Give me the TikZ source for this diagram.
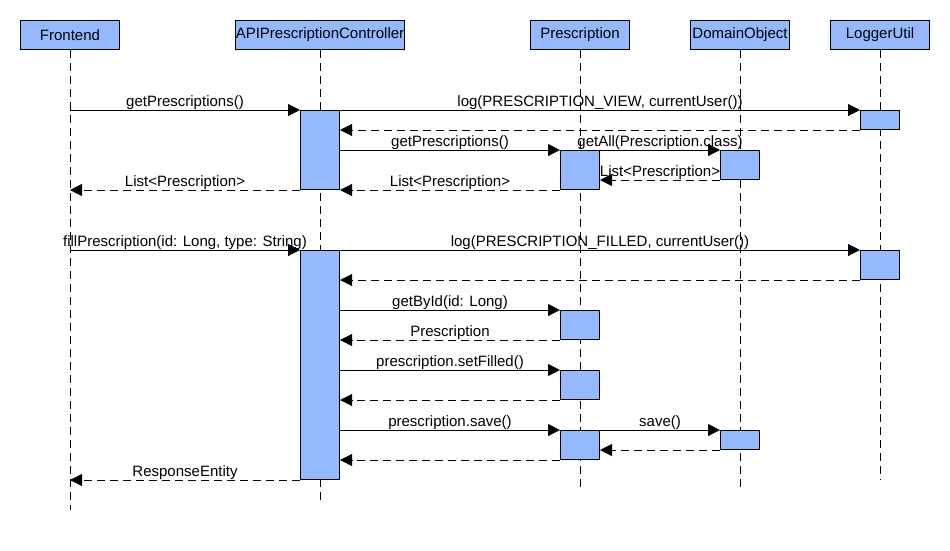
\documentclass[tikz,border=0pt]{standalone}
\usepackage{fontspec}
\setmainfont{Liberation Sans}
\usetikzlibrary{arrows.meta}
\usetikzlibrary{math}
\definecolor{actblue}{RGB}{148, 185, 255}

\begin{document}
\begin{tikzpicture}[x=1pt,y=-1pt,
  font=\fontsize{15}{18}\selectfont,
  head/.style={draw,fill=actblue,line width=1pt,minimum width=99pt,minimum height=29pt,inner sep=0pt},
  act/.style={draw,fill=actblue,line width=1pt,minimum width=39pt,inner sep=0pt,anchor=north},
  life/.style={line width=1pt,dash pattern=on 8pt off 5pt},
  call/.style={line width=1pt,-{Triangle[length=12pt,width=12pt]}},
  reply/.style={call,dash pattern=on 8pt off 5pt},
  msg/.style={midway,anchor=base,yshift=4pt,inner sep=0pt}]
\useasboundingbox (0,0) rectangle (950,550);
\tikzmath{
\hy=35;
}
% participants
\node[head] (fe) at (70,\hy) {Frontend};
\node[head] (ctl) at (320,\hy) {APIPrescriptionController};
\node[head] (rx) at (580,\hy) {Prescription};
\node[head] (dom) at (740,\hy) {DomainObject};
\node[head] (lg) at (880,\hy) {LoggerUtil};

\draw[life] (fe.south) -- (fe |- 0,510);
\draw[life] (ctl.south) -- (ctl |- 0,500);
\draw[life] (rx.south) -- (rx |- 0,490);
\draw[life] (dom.south) -- (dom |- 0,490);
\draw[life] (lg.south) -- (lg |- 0,480);

% activations
\node[act,minimum height=79pt] (c1) at (320,110) {};
\node[act,minimum height=19pt] (l1) at (880,110) {};
\node[act,minimum height=39pt] (p1) at (580,150) {};
\node[act,minimum height=29pt] (d1) at (740,150) {};
\node[act,minimum height=229pt] (c2) at (320,250) {};
\node[act,minimum height=29pt] (l2) at (880,250) {};
\node[act,minimum height=29pt] (p2) at (580,310) {};
\node[act,minimum height=29pt] (p3) at (580,370) {};
\node[act,minimum height=29pt] (p4) at (580,430) {};
\node[act,minimum height=19pt] (d2) at (740,430) {};

% getPrescriptions
\draw[call] (fe |- c1.north) -- (c1.north west) node[msg]{getPrescriptions()};
\draw[call] (c1.north east) -- (l1.north west) node[msg]{log(PRESCRIPTION\_VIEW, currentUser())};
\draw[reply] (l1.south west) -- (c1.east |- l1.south);
\draw[call] (c1.east |- p1.north) -- (p1.north west) node[msg]{getPrescriptions()};
\draw[call] (p1.north east) -- (d1.north west) node[msg]{getAll(Prescription.class)};
\draw[reply] (d1.south west) -- (p1.east |- d1.south) node[msg]{List<Prescription>};
\draw[reply] (p1.south west) -- (c1.east |- p1.south) node[msg]{List<Prescription>};
\draw[reply] (c1.south west) -- (fe |- c1.south) node[msg]{List<Prescription>};

% fillPrescription
\draw[call] (fe |- c2.north) -- (c2.north west) node[msg]{fillPrescription(id: Long, type: String)};
\draw[call] (c2.north east) -- (l2.north west) node[msg]{log(PRESCRIPTION\_FILLED, currentUser())};
\draw[reply] (l2.south west) -- (c2.east |- l2.south);
\draw[call] (c2.east |- p2.north) -- (p2.north west) node[msg]{getById(id: Long)};
\draw[reply] (p2.south west) -- (c2.east |- p2.south) node[msg]{Prescription};
\draw[call] (c2.east |- p3.north) -- (p3.north west) node[msg]{prescription.setFilled()};
\draw[reply] (p3.south west) -- (c2.east |- p3.south);
\draw[call] (c2.east |- p4.north) -- (p4.north west) node[msg]{prescription.save()};
\draw[call] (p4.north east) -- (d2.north west) node[msg]{save()};
\draw[reply] (d2.south west) -- (p4.east |- d2.south);
\draw[reply] (p4.south west) -- (c2.east |- p4.south);
\draw[reply] (c2.south west) -- (fe |- c2.south) node[msg]{ResponseEntity};
\end{tikzpicture}
\end{document}
